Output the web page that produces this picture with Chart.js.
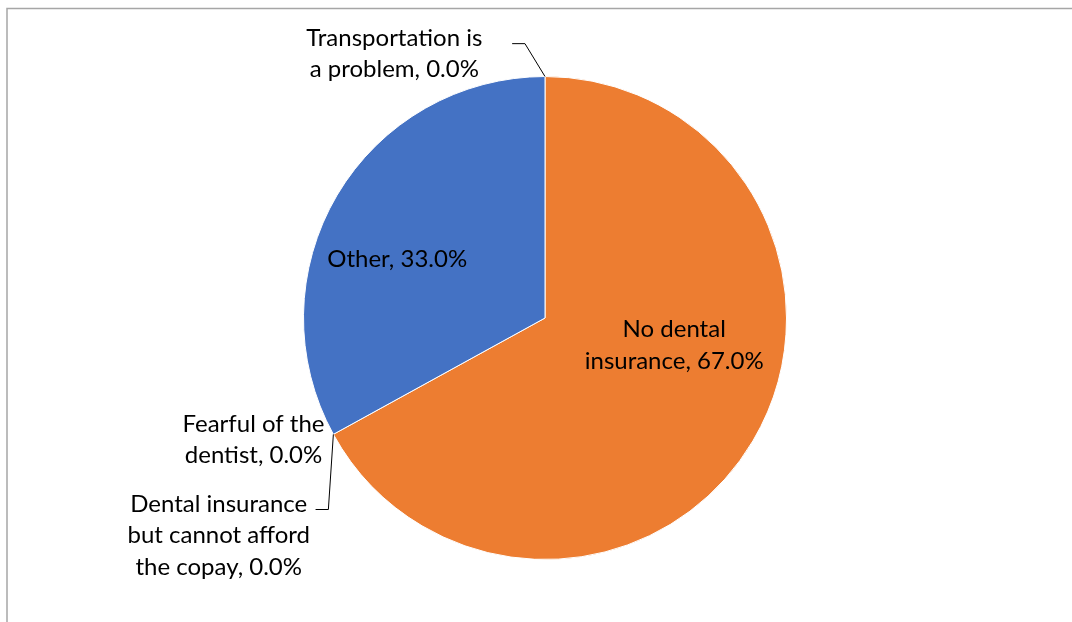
<!DOCTYPE html>
<html>
<head>
<meta charset="utf-8">
<script src="https://cdn.jsdelivr.net/npm/chart.js@4/dist/chart.umd.min.js"></script>
<style>
  html, body { margin: 0; padding: 0; background: #fff; }
  #wrap { position: relative; width: 1072px; height: 622px; }
</style>
</head>
<body>
<div id="wrap"><canvas id="c" width="1072" height="622"></canvas></div>
<script>
// ---- Data ----
const categories = [
  "No dental insurance",
  "Dental insurance but cannot afford the copay",
  "Fearful of the dentist",
  "Other",
  "Transportation is a problem"
];
const percentValues = [67.0, 0.0, 0.0, 33.0, 0.0];
const labelLines = [
  ["No dental", "insurance, 67.0%"],
  ["Dental insurance", "but cannot afford", "the copay, 0.0%"],
  ["Fearful of the", "dentist, 0.0%"],
  ["Other, 33.0%"],
  ["Transportation is", "a problem, 0.0%"]
];
const sliceColors = ["#ED7D31", "#A5A5A5", "#FFC000", "#4472C4", "#5B9BD5"];

// label placement, relative to pie centre in units of radius (first baseline)
const labelPos = [
  { dx: 0.535, dy: 0.079 },
  { dx: -1.351, dy: 0.802 },
  { dx: -1.207, dy: 0.471 },
  { dx: -0.612, dy: -0.211 },
  { dx: -0.624, dy: -1.128 }
];
// leader elbows (relative to centre, units of radius); null = no leader
const leaders = [
  null,
  [{ dx: -0.897, dy: 0.793 }, { dx: -0.950, dy: 0.793 }],
  null,
  null,
  [{ dx: -0.083, dy: -1.136 }, { dx: -0.136, dy: -1.136 }]
];

const FONT = '24px Lato';
const LINE_GAP = 31.5;

const framePlugin = {
  id: 'frame',
  beforeDraw(chart) {
    const ctx = chart.ctx;
    ctx.save();
    ctx.fillStyle = '#ffffff';
    ctx.fillRect(0, 0, chart.width, chart.height);
    ctx.strokeStyle = '#a6a6a6';
    ctx.lineWidth = 1.5;
    ctx.beginPath();
    ctx.moveTo(7, chart.height + 2);
    ctx.lineTo(7, 8.5);
    ctx.lineTo(chart.width + 2, 8.5);
    ctx.stroke();
    ctx.restore();
  }
};

const labelPlugin = {
  id: 'sliceLabels',
  afterDatasetsDraw(chart) {
    const ctx = chart.ctx;
    const meta = chart.getDatasetMeta(0);
    ctx.save();
    ctx.font = FONT;
    ctx.fillStyle = '#000000';
    ctx.textAlign = 'center';
    ctx.textBaseline = 'alphabetic';
    meta.data.forEach((arc, i) => {
      const cx = arc.x, cy = arc.y, r = arc.outerRadius;
      if (leaders[i]) {
        const a = arc.endAngle;
        ctx.strokeStyle = '#000000';
        ctx.lineWidth = 1;
        ctx.beginPath();
        ctx.moveTo(cx + r * Math.cos(a), cy + r * Math.sin(a));
        leaders[i].forEach(p => ctx.lineTo(cx + p.dx * r, cy + p.dy * r));
        ctx.stroke();
      }
      const lx = cx + labelPos[i].dx * r;
      const ly = cy + labelPos[i].dy * r;
      labelLines[i].forEach((t, k) => ctx.fillText(t, lx, ly + k * LINE_GAP));
    });
    ctx.restore();
  }
};

new Chart(document.getElementById('c'), {
  type: 'pie',
  data: {
    labels: categories,
    datasets: [{
      data: percentValues,
      backgroundColor: sliceColors,
      borderColor: '#ffffff',
      borderWidth: 1
    }]
  },
  options: {
    responsive: false,
    animation: false,
    layout: { padding: { left: 303, right: 285, top: 76, bottom: 62 } },
    plugins: { legend: { display: false }, tooltip: { enabled: false } }
  },
  plugins: [framePlugin, labelPlugin]
});
</script>
</body>
</html>
